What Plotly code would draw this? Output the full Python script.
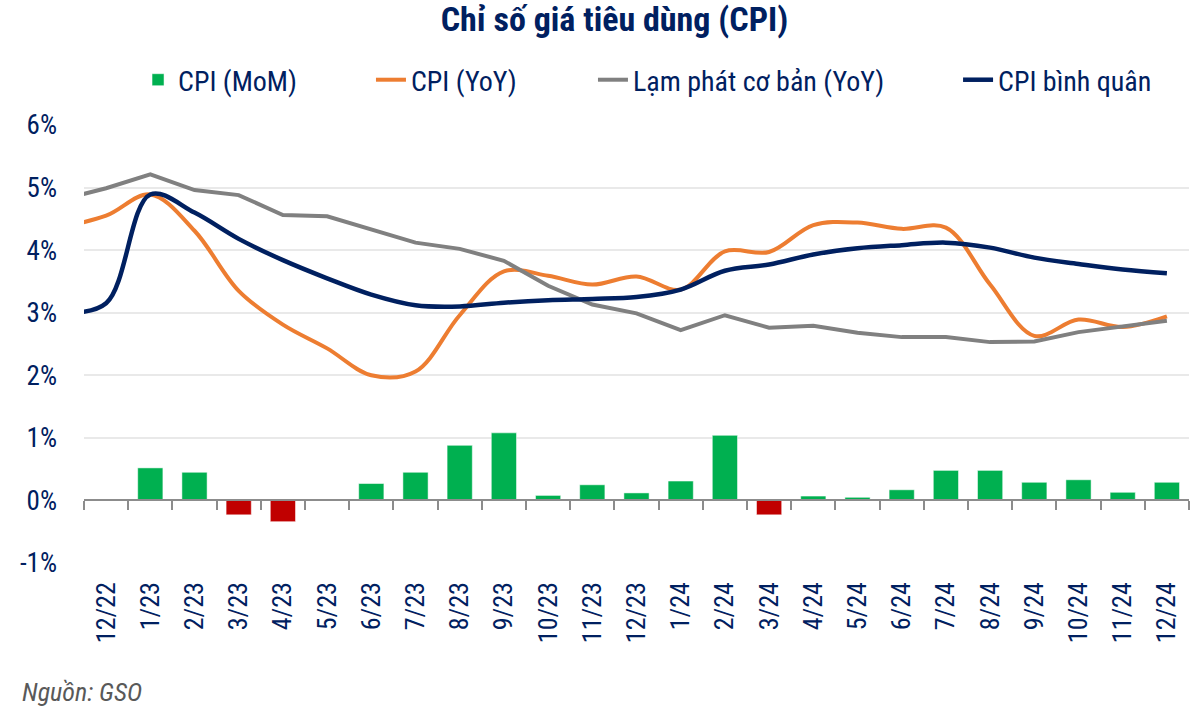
import plotly.graph_objects as go

# ---- data ----
months = ["12/22", "1/23", "2/23", "3/23", "4/23", "5/23", "6/23", "7/23", "8/23",
          "9/23", "10/23", "11/23", "12/23", "1/24", "2/24", "3/24", "4/24", "5/24",
          "6/24", "7/24", "8/24", "9/24", "10/24", "11/24", "12/24"]
cpi_mom = [0.0, 0.52, 0.45, -0.23, -0.34, 0.01, 0.27, 0.45, 0.88, 1.08, 0.08, 0.25,
           0.12, 0.31, 1.04, -0.23, 0.07, 0.05, 0.17, 0.48, 0.48, 0.29, 0.33, 0.13, 0.29]

# line series include the preceding month (clipped at the left edge of the plot)
line_months = ["11/22"] + months
cpi_yoy = [4.37, 4.55, 4.89, 4.31, 3.35, 2.81, 2.43, 2.00, 2.06, 2.96, 3.66, 3.59, 3.45,
           3.58, 3.37, 3.98, 3.97, 4.40, 4.44, 4.34, 4.36, 3.45, 2.63, 2.89, 2.77, 2.94]
core_yoy = [4.81, 4.99, 5.21, 4.96, 4.88, 4.56, 4.54, 4.33, 4.12, 4.02, 3.83, 3.43, 3.13,
            2.99, 2.72, 2.96, 2.76, 2.79, 2.68, 2.61, 2.61, 2.53, 2.54, 2.69, 2.78, 2.87]
cpi_avg = [3.00, 3.15, 4.89, 4.60, 4.18, 3.84, 3.55, 3.29, 3.12, 3.10, 3.16, 3.20, 3.22,
           3.25, 3.37, 3.67, 3.77, 3.93, 4.03, 4.08, 4.12, 4.04, 3.88, 3.78, 3.69, 3.63]

y_ticks = [-1, 0, 1, 2, 3, 4, 5, 6]
y_ticktext = ["-1%", "0%", "1%", "2%", "3%", "4%", "5%", "6%"]

# ---- style ----
NAVY = "#002060"
GREEN = "#00B050"
RED = "#C00000"
ORANGE = "#ED7D31"
GRAY = "#808080"
FONT = "Roboto Condensed, Liberation Sans Narrow, Roboto, sans-serif"

bar_colors = [GREEN if v >= 0 else RED for v in cpi_mom]

fig = go.Figure()
fig.add_trace(go.Bar(
    x=months, y=cpi_mom, name="CPI (MoM)",
    marker=dict(color=bar_colors, line=dict(color="rgba(255,255,255,0.5)", width=1)),
    width=0.57, xaxis="x", yaxis="y", legend="legend",
))
fig.add_trace(go.Scatter(
    x=line_months, y=cpi_yoy, name="CPI (YoY)", mode="lines",
    line=dict(color=ORANGE, width=4, shape="spline", smoothing=1),
    xaxis="x2", yaxis="y", legend="legend2",
))
fig.add_trace(go.Scatter(
    x=line_months, y=core_yoy, name="Lạm phát cơ bản (YoY)", mode="lines",
    line=dict(color=GRAY, width=4),
    xaxis="x2", yaxis="y", legend="legend3",
))
fig.add_trace(go.Scatter(
    x=line_months, y=cpi_avg, name="CPI bình quân", mode="lines",
    line=dict(color=NAVY, width=4.5, shape="spline", smoothing=1),
    xaxis="x2", yaxis="y", legend="legend4",
))

xrange = [0.5, len(line_months) - 0.5]


def legend_at(xpos):
    return dict(
        orientation="h", x=xpos, xanchor="left", y=1.1027, yanchor="middle",
        font=dict(family=FONT, size=28, color=NAVY), bgcolor="rgba(0,0,0,0)",
    )


fig.update_layout(
    width=1200, height=707,
    paper_bgcolor="white", plot_bgcolor="white",
    margin=dict(l=84, r=11, t=125, b=144),
    font=dict(family=FONT, color=NAVY, size=26),
    title=dict(
        text="<b>Chỉ số giá tiêu dùng (CPI)</b>",
        x=0.512, xanchor="center", xref="container",
        y=1 - 19 / 707, yanchor="middle", yref="container",
        font=dict(family=FONT, size=34, color=NAVY),
    ),
    legend=legend_at(0.0489),
    legend2=legend_at(0.2597),
    legend3=legend_at(0.4606),
    legend4=legend_at(0.7910),
    xaxis=dict(
        type="category", categoryorder="array", categoryarray=line_months,
        range=xrange, tickmode="array", tickvals=months, ticktext=months,
        tickangle=-90, showline=False, showgrid=False, zeroline=False, ticks="",
        tickfont=dict(family=FONT, size=26, color=NAVY), ticklabelstandoff=13,
    ),
    xaxis2=dict(
        type="category", categoryorder="array", categoryarray=line_months,
        range=xrange, overlaying="x", anchor="free", position=1 / 7,
        showline=True, linecolor="#8C8C8C", linewidth=2,
        ticks="outside", tickson="boundaries", ticklen=9, tickwidth=2, tickcolor="#8C8C8C",
        showticklabels=False, showgrid=False, zeroline=False,
    ),
    yaxis=dict(
        range=[-1, 6], tickmode="array", tickvals=y_ticks, ticktext=y_ticktext,
        showgrid=True, gridcolor="#E9E9E9", gridwidth=1.5, zeroline=False,
        showline=False, tickfont=dict(family=FONT, size=27, color=NAVY),
        ticklabelstandoff=26,
    ),
    showlegend=True,
)

fig.add_annotation(
    text="<i>Nguồn: GSO</i>", xref="paper", yref="paper",
    x=-0.058, xanchor="left", y=-0.295, yanchor="middle", showarrow=False,
    font=dict(family=FONT, size=26, color="#595959"),
)

fig.write_html("out.html", config={"displayModeBar": False},
               post_script="document.body.style.margin='0';")
